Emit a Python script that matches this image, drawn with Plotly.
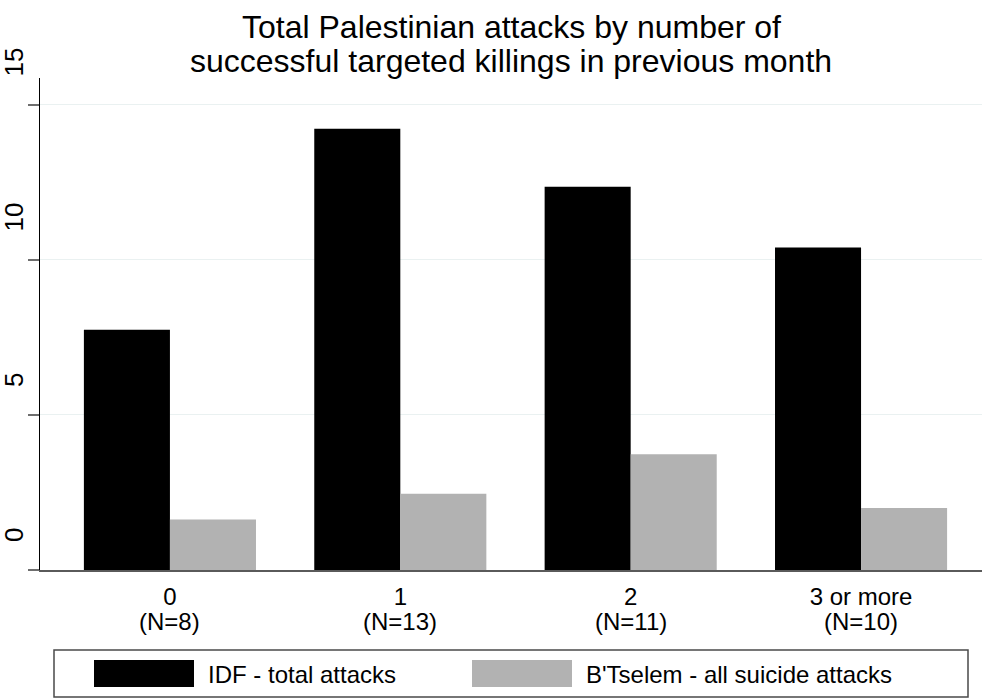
import plotly.graph_objects as go

# Mean monthly attacks, grouped by targeted killings in the previous month
categories = ["0", "1", "2", "3 or more"]
n_months = [8, 13, 11, 10]
idf_total = [7.75, 14.23, 12.36, 10.4]
btselem_suicide = [1.625, 2.46, 3.73, 2.0]
y_ticks = [0, 5, 10, 15]

series_names = ["IDF - total attacks", "B'Tselem - all suicide attacks"]
series_colors = ["#000000", "#b2b2b2"]
title_lines = ["Total Palestinian attacks by number of",
               "successful targeted killings in previous month"]

FONT = "Liberation Sans, Arial, sans-serif"
W, H = 982, 698
PL, PR, PT, PB = 40, 982, 78, 570  # plot area in pixels


def px_x(p):
    return (p - PL) / (PR - PL)


def px_y(p):
    return (PB - p) / (PB - PT)


x_pos = list(range(len(categories)))

fig = go.Figure()
for name, vals, col in zip(series_names, [idf_total, btselem_suicide], series_colors):
    fig.add_trace(go.Bar(
        x=x_pos, y=vals, name=name,
        marker=dict(color=col, line=dict(width=0)),
        showlegend=False,
    ))

fig.update_layout(
    width=W, height=H,
    margin=dict(l=PL, r=W - PR, t=PT, b=H - PB),
    paper_bgcolor="white", plot_bgcolor="white",
    barmode="group", bargap=0.253, bargroupgap=0.0,
    font=dict(family=FONT, color="#000000"),
    xaxis=dict(
        range=[-0.564, 3.525],
        tickvals=x_pos, ticktext=categories,
        tickfont=dict(size=24, family=FONT, color="#000000"),
        showgrid=False, zeroline=False,
        showline=True, linecolor="#5a5a5a", linewidth=2,
        ticks="", ticklabelstandoff=4,
    ),
    yaxis=dict(
        range=[0, 15.87],
        tickvals=y_ticks, showticklabels=False,
        ticks="outside", ticklen=11, tickcolor="#6e6e6e", tickwidth=1.5,
        showgrid=True, gridcolor="#eaf1f1", gridwidth=1,
        zeroline=False,
        showline=True, linecolor="#000000", linewidth=1.2,
    ),
)

annotations = []

# Two-line title, tightly spaced
for line, cy in zip(title_lines, [27, 61]):
    annotations.append(dict(
        xref="paper", yref="paper", x=px_x(511), y=px_y(cy),
        text=line, showarrow=False, xanchor="center", yanchor="middle",
        font=dict(size=32, family=FONT, color="#000000"),
    ))

# Second line of each category label: number of months
for xv, n in zip(x_pos, n_months):
    annotations.append(dict(
        xref="x", yref="paper", x=xv, y=px_y(621),
        text=f"(N={n})", showarrow=False, xanchor="center", yanchor="middle",
        font=dict(size=24, family=FONT, color="#000000"),
    ))

# Rotated y tick labels, set just above their ticks
for v in y_ticks:
    annotations.append(dict(
        xref="paper", yref="y", x=px_x(14), y=v,
        text=str(v), showarrow=False, textangle=-90,
        xanchor="center", yanchor="bottom", yshift=26,
        font=dict(size=26, family=FONT, color="#000000"),
    ))

# Legend: framed box with wide swatches beneath the plot
shapes = [dict(
    type="rect", xref="paper", yref="paper",
    x0=px_x(54), x1=px_x(968), y0=px_y(650), y1=px_y(697),
    line=dict(color="#4a4a4a", width=1.5), fillcolor="white", layer="above",
)]
swatch_left = [94, 472]
for name, col, sx in zip(series_names, series_colors, swatch_left):
    shapes.append(dict(
        type="rect", xref="paper", yref="paper",
        x0=px_x(sx), x1=px_x(sx + 100), y0=px_y(660), y1=px_y(687),
        line=dict(width=0), fillcolor=col, layer="above",
    ))
    annotations.append(dict(
        xref="paper", yref="paper", x=px_x(sx + 112), y=px_y(674),
        text=name, showarrow=False, xanchor="left", yanchor="middle",
        font=dict(size=24, family=FONT, color="#000000"),
    ))

fig.update_layout(shapes=shapes, annotations=annotations)
fig.write_html("out.html")
